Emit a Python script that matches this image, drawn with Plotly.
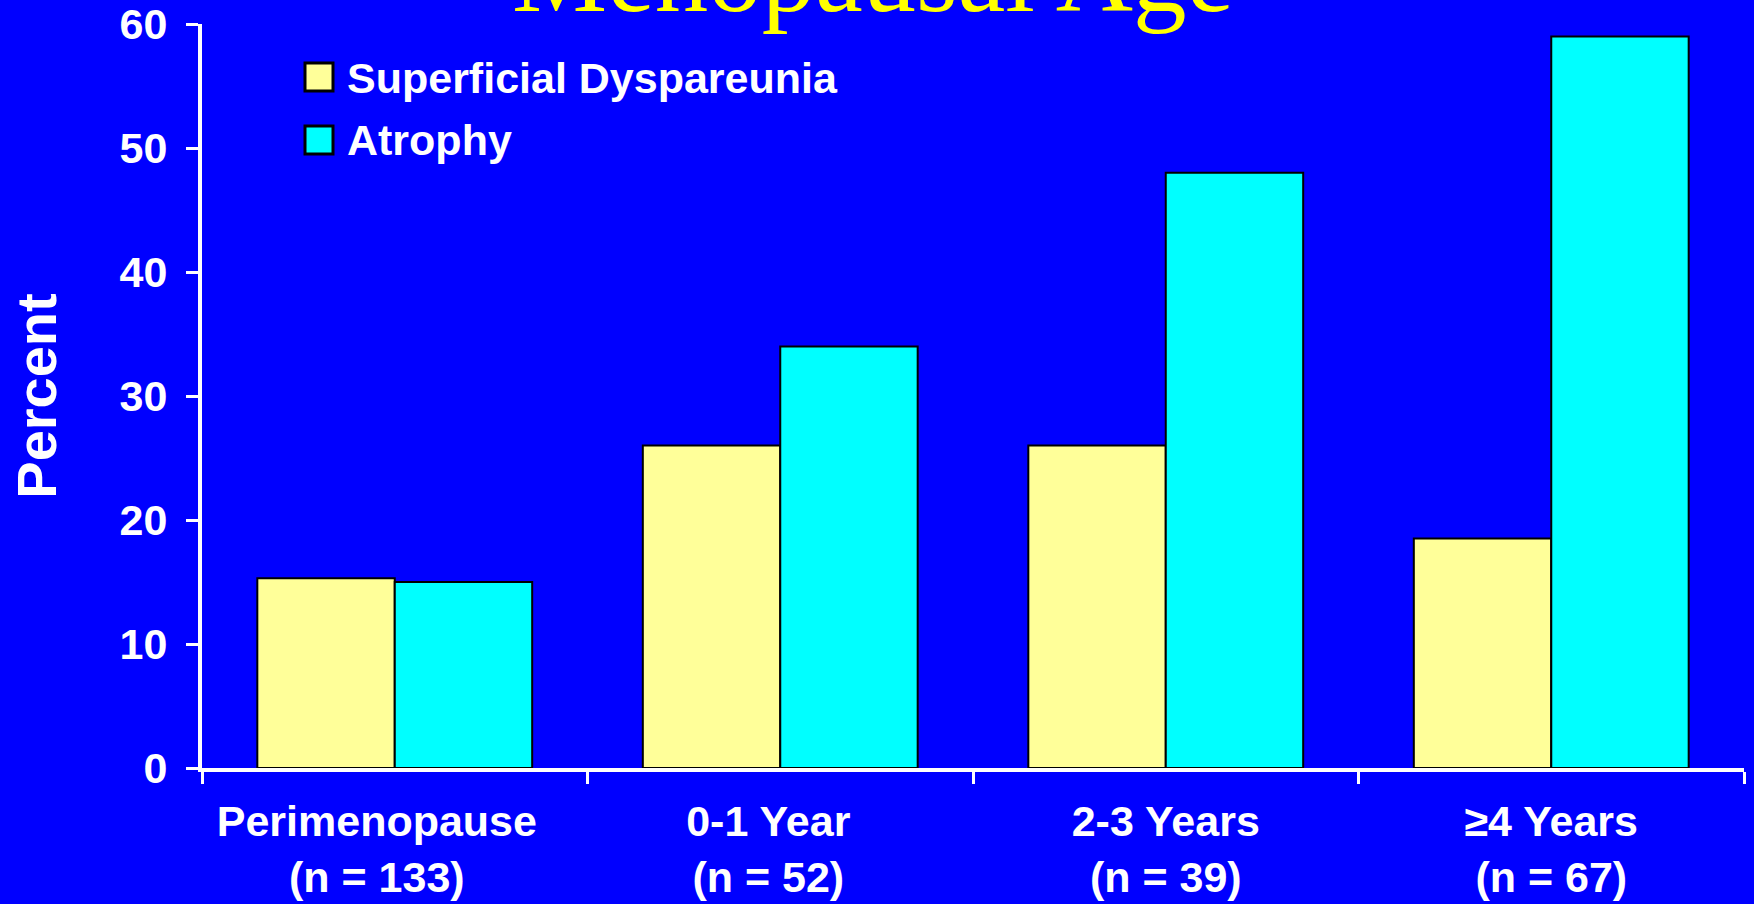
import plotly.graph_objects as go

categories = ["Perimenopause<br>(n = 133)", "0-1 Year<br>(n = 52)", "2-3 Years<br>(n = 39)", "\u22654 Years<br>(n = 67)"]
dyspareunia = [15.3, 26, 26, 18.5]
atrophy = [15, 34, 48, 59]
series_names = ["Superficial Dyspareunia", "Atrophy"]
series_colors = ["#FFFF99", "#00FFFF"]
y_ticks = [0, 10, 20, 30, 40, 50, 60]
title_text = "Menopausal Age"
y_title = "Percent"

BG = "#0000FF"
FONT = "Liberation Sans, Arial, sans-serif"

W, H = 1754, 904
ML, MR, MT, MB = 202, 10, 24, 136
PW, PH = W - ML - MR, H - MT - MB


def px_x(px):
    return (px - ML) / PW


def px_y(py):
    return (H - MB - py) / PH


fig = go.Figure()
for vals, name, col in zip([dyspareunia, atrophy], series_names, series_colors):
    fig.add_trace(go.Bar(x=categories, y=vals, name=name, showlegend=False,
                         marker=dict(color=col, line=dict(color="black", width=2))))

# category labels sit slightly left of centre in the original for the first two groups
label_shift = [3, 2, 0, 0]
tick_text = ["<br>".join(line + "\u00a0" * n for line in c.split("<br>"))
             for c, n in zip(categories, label_shift)]

# legend drawn as swatches + labels (large square keys as in the original)
shapes = []
annotations = []
rows = [(63, 91, 77.5), (126, 154, 140)]
for (top, bot, mid), name, col in zip(rows, series_names, series_colors):
    shapes.append(dict(type="rect", xref="paper", yref="paper",
                       x0=px_x(305), x1=px_x(333), y0=px_y(bot), y1=px_y(top),
                       fillcolor=col, line=dict(color="black", width=3), layer="above"))
    annotations.append(dict(text=name, xref="paper", yref="paper", x=px_x(345), y=px_y(mid),
                            xanchor="left", yanchor="middle", showarrow=False,
                            font=dict(family=FONT, size=43, color="white", weight="bold")))

annotations.append(dict(text=title_text, xref="paper", yref="paper", x=px_x(873), y=px_y(36),
                        xanchor="center", yanchor="bottom", showarrow=False,
                        font=dict(family="Liberation Serif, Times New Roman, serif", size=107,
                                  color="#FFFF00", weight="normal")))

fig.update_layout(
    width=W, height=H,
    margin=dict(l=ML, r=MR, t=MT, b=MB),
    paper_bgcolor=BG, plot_bgcolor=BG,
    barmode="group", bargap=0.287, bargroupgap=0,
    font=dict(family=FONT, size=43, color="white", weight="bold"),
    showlegend=False,
    xaxis=dict(showline=True, linecolor="white", linewidth=4, automargin=False,
               tickvals=categories, ticktext=tick_text,
               ticks="outside", tickson="boundaries", ticklen=12, tickwidth=3, tickcolor="white",
               showgrid=False, zeroline=False, ticklabelstandoff=12,
               tickfont=dict(size=43, color="white", weight="bold")),
    yaxis=dict(range=[0, 60], tickvals=y_ticks, showline=True, linecolor="white", linewidth=4,
               automargin=False,
               ticks="outside", ticklen=12, tickwidth=3, tickcolor="white",
               showgrid=False, zeroline=False, ticklabelstandoff=10,
               tickfont=dict(size=43, color="white", weight="bold"),
               title=dict(text=y_title, font=dict(size=56, color="white", weight="bold"), standoff=46)),
    shapes=shapes,
    annotations=annotations,
)

fig.write_html("out.html", config={"displayModeBar": False},
               post_script="document.body.style.margin='0';document.body.style.overflow='hidden';")
